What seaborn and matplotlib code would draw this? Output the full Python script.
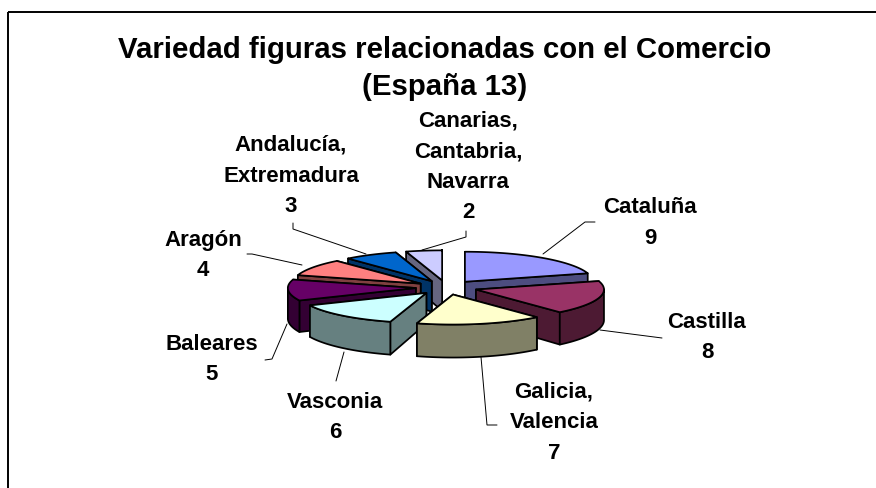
import numpy as np
import matplotlib
matplotlib.use("Agg")
import matplotlib.pyplot as plt
from matplotlib.patches import Polygon
import seaborn as sns

# Data
categories = ["Cataluña", "Castilla", "Galicia,\nValencia", "Vasconia", "Baleares",
              "Aragón", "Andalucía,\nExtremadura", "Canarias,\nCantabria,\nNavarra"]
values = [9, 8, 7, 6, 5, 4, 3, 2]
title = "Variedad figuras relacionadas con el Comercio\n(España 13)"
colors = ["#9999FF", "#993366", "#FFFFCC", "#CCFFFF", "#660066", "#FF8080", "#0066CC", "#CCCCFF"]

# Layout (pixels)
CX, CY, RX, RY = 446.5, 287.5, 128, 30
EXPLODE = 0.24
D0, D1 = 30.5, 2.5
LW = 1.25
# label block centres
label_pos = [(650, 223), (707, 337.5), (554, 422.5), (335, 417.5), (212, 359.5),
             (203, 255.5), (291, 176), (468, 167)]
leaders = [[(543, 254), (585, 222), (595, 222)],
           [(600, 330), (662, 338)],
           [(481, 357), (487, 425), (497, 425)],
           [(344, 352), (336, 381)],
           [(287, 324), (272, 359), (265, 360)],
           [(302, 265), (252, 254), (247, 254)],
           [(366, 254), (293, 229), (293, 223)],
           [(422, 250), (466, 237), (466, 231)]]

sns.set_theme(style="white")
plt.rcParams["font.family"] = ["Liberation Sans", "DejaVu Sans"]
palette = sns.color_palette(colors)

fig = plt.figure(figsize=(8.76, 4.88), dpi=100, facecolor="white")
ax = fig.add_axes([0, 0, 1, 1])
ax.set_xlim(0, 876)
ax.set_ylim(488, 0)
ax.axis("off")

# chart frame
ax.plot([8, 8], [488, 11.5], color="black", lw=1.4, solid_capstyle="butt", zorder=1)
ax.plot([7.5, 876], [11.5, 11.5], color="black", lw=1.4, solid_capstyle="butt", zorder=1)

def dark(c, f=0.5):
    return tuple(v * f for v in c)

total = sum(values)
edges = np.cumsum([0] + values) / total * 2 * np.pi
order = sorted(range(len(values)), key=lambda i: -np.cos((edges[i] + edges[i + 1]) / 2))
z = 3
def face(pts, fc):
    global z
    ax.add_patch(Polygon(pts, closed=True, fc=fc, ec="black", lw=LW, joinstyle="round", zorder=z))
    z += 1

for i in order:
    a0, a1 = edges[i], edges[i + 1]
    mid = (a0 + a1) / 2
    ox = CX + EXPLODE * RX * np.sin(mid)
    oy = CY - EXPLODE * RY * np.cos(mid)
    def top(t):
        return ox + RX * np.sin(t), oy - RY * np.cos(t)
    def depth(t):
        return D0 - D1 * np.cos(t)
    ts = np.linspace(a0, a1, 80)
    tx, ty = top(ts)
    apex = (ox, oy)
    dapex = D0
    side = dark(palette[i])
    mx, my = top(mid)
    # cut faces: back-facing first
    cuts = []
    for a in (a0, a1):
        px, py = top(a)
        if abs(px - ox) < 1e-6:
            vis = 0
        else:
            ly = oy + (py - oy) * (mx - ox) / (px - ox)
            vis = 1 if my < ly else -1
        cuts.append((vis, a, px, py))
    cuts.sort(key=lambda c: c[0])
    for vis, a, px, py in cuts:
        face([apex, (px, py), (px, py + depth(a)), (ox, oy + dapex)], side)
    # outer rim: only the part that faces the viewer
    tr = ts[np.cos(ts) <= 0.02]
    if len(tr) > 1:
        rx_, ry_ = top(tr)
        lower = np.column_stack([rx_, ry_ + depth(tr)])[::-1]
        face(np.vstack([np.column_stack([rx_, ry_]), lower]), side)
    # top face
    face(np.vstack([[apex], np.column_stack([tx, ty])]), palette[i])

# leader lines
for pts in leaders:
    xs, ys = zip(*pts)
    ax.plot(xs, ys, color="black", lw=0.7, zorder=2, solid_joinstyle="miter")

# data labels
for (lx, ly), cat, val in zip(label_pos, categories, values):
    ax.text(lx, ly, f"{cat}\n{val}", ha="center", va="center", fontsize=16, fontweight="bold",
            color="black", linespacing=1.6, zorder=50)

ax.text(445, 68.5, title, ha="center", va="center", fontsize=21.2, fontweight="bold",
        color="black", linespacing=1.38, zorder=50)

fig.savefig("out.png", dpi=100, facecolor="white")
